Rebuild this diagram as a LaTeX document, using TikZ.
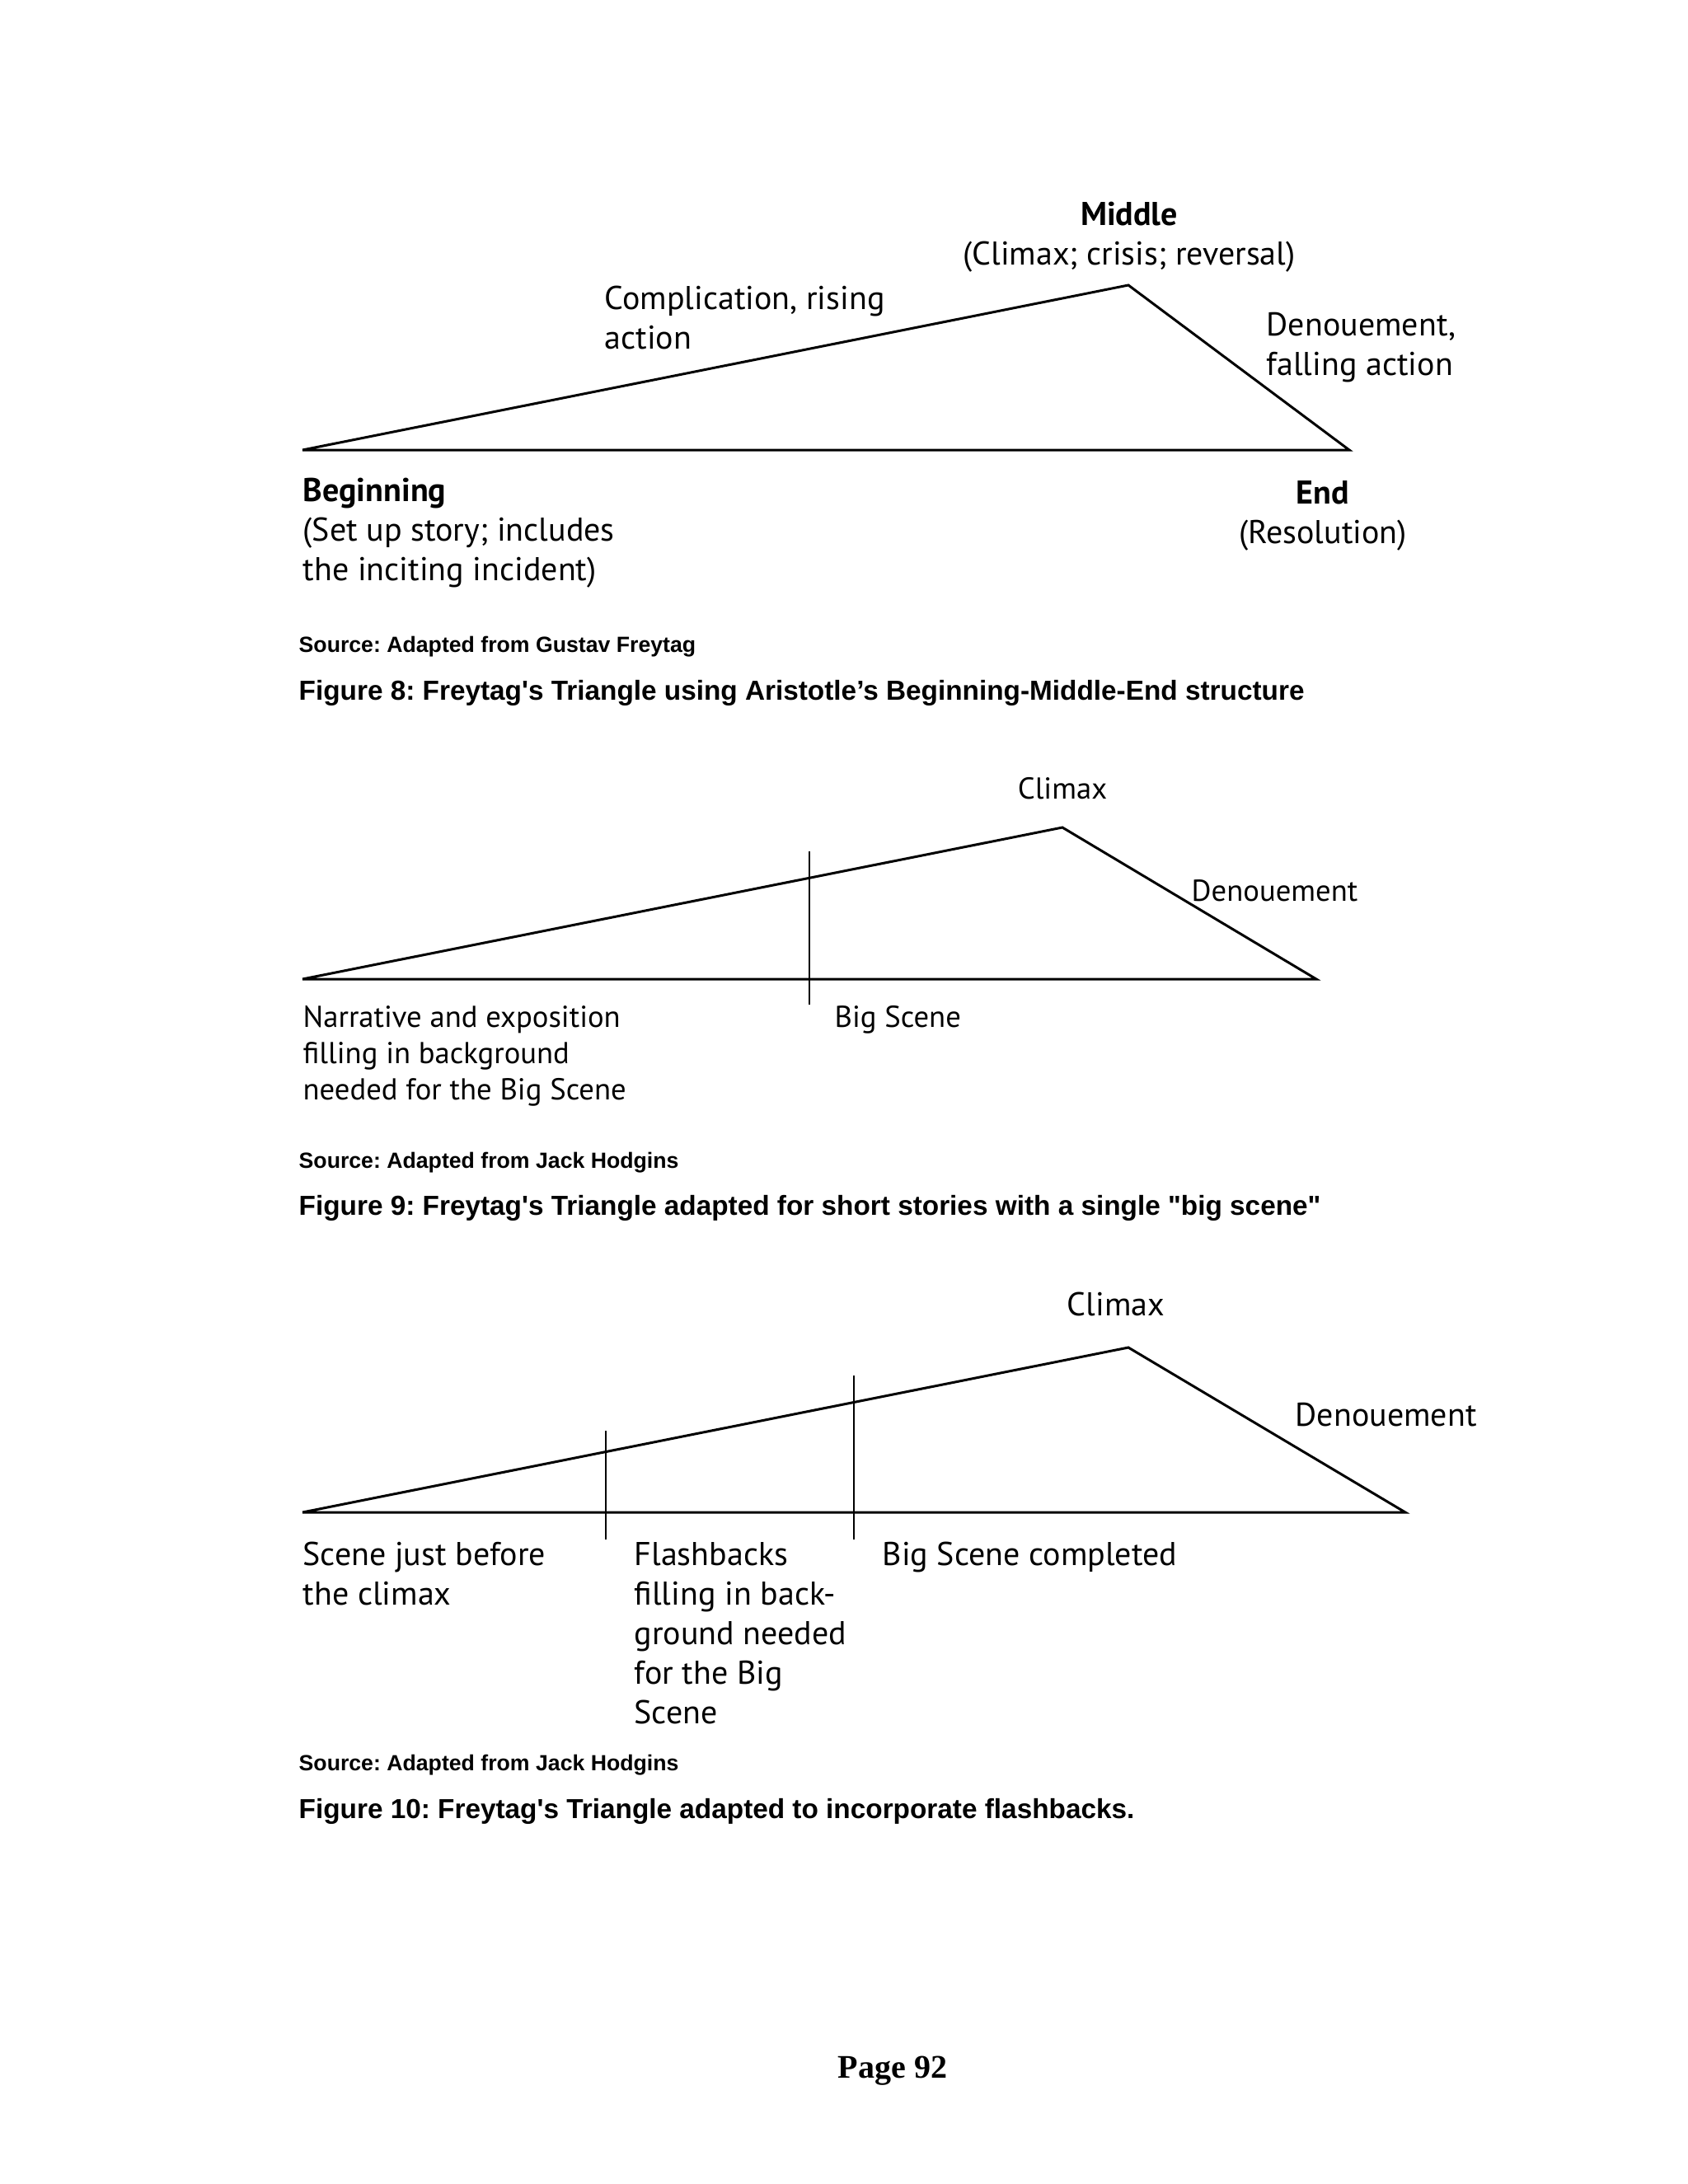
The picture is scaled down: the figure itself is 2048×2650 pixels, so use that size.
\documentclass[tikz,border=0pt]{standalone}
\usepackage{fontspec}
\setmainfont{PT Sans}
\newfontfamily\capfont{Liberation Sans}
\newfontfamily\pagefont{Liberation Serif}
\frenchspacing
\tikzset{
	tri/.style={line width=0.9pt, line join=miter},
	cutline/.style={line width=0.55pt},
	lbl/.style={inner sep=0pt, anchor=base west, align=left, font=\fontsize{12}{14.4}\selectfont},
	lblsmall/.style={lbl, font=\fontsize{11}{13.2}\selectfont},
	srcnote/.style={inner sep=0pt, anchor=base west, font=\capfont\bfseries\fontsize{8}{10}\selectfont},
	figcap/.style={inner sep=0pt, anchor=base west, font=\capfont\bfseries\fontsize{10}{12}\selectfont}
}
\begin{document}
\begin{tikzpicture}[x=0.010541cm, y=-0.010541cm]
	\useasboundingbox (0,0) rectangle (2048,2650);

	% Figure 8 (base anchors of multi-line labels sit on the last line)
	\coordinate (beg) at (367,546);
	\coordinate (mid) at (1369,346);
	\coordinate (fin) at (1637,546);
	\draw[tri] (beg) -- (mid) -- (fin) -- cycle;
	\node[lbl, anchor=base, align=center] (middle) at (1370,321) {\textbf{Middle}\\(Climax; crisis; reversal)};
	\node[lbl] (rising) at (733,423) {Complication, rising\\action};
	\node[lbl] (falling) at (1536,455) {Denouement,\\falling action};
	\node[lbl] (beginning) at (367,704) {\textbf{Beginning}\\(Set up story; includes\\the inciting incident)};
	\node[lbl, anchor=base, align=center] (end) at (1605,659) {\textbf{End}\\(Resolution)};
	\node[srcnote] (src8) at (362,791) {Source: Adapted from Gustav Freytag};
	\node[figcap] (cap8) at (362,849) {Figure 8: Freytag's Triangle using Aristotle’s Beginning-Middle-End structure};

	% Figure 9
	\coordinate (beg2) at (367,1188);
	\coordinate (top2) at (1289,1004);
	\coordinate (fin2) at (1597,1188);
	\draw[tri] (beg2) -- (top2) -- (fin2) -- cycle;
	\coordinate (big2a) at (982,1033);
	\coordinate (big2b) at (982,1219);
	\draw[cutline] (big2a) -- (big2b);
	\node[lblsmall, anchor=base] (climax2) at (1289,969) {Climax};
	\node[lblsmall] (denoue2) at (1445,1093) {Denouement};
	\node[lblsmall] (narr2) at (367,1334) {Narrative and exposition\\filling in background\\needed for the Big Scene};
	\node[lblsmall] (big2) at (1012,1246) {Big Scene};
	\node[srcnote] (src9) at (362,1417) {Source: Adapted from Jack Hodgins};
	\node[figcap] (cap9) at (362,1474) {Figure 9: Freytag's Triangle adapted for short stories with a single "big scene"};

	% Figure 10
	\coordinate (beg3) at (367,1835);
	\coordinate (top3) at (1369,1635);
	\coordinate (fin3) at (1705,1835);
	\draw[tri] (beg3) -- (top3) -- (fin3) -- cycle;
	\foreach \x/\y in {735/1736, 1036/1669}
	{
		\draw[cutline] (\x,\y) -- (\x,1868);
	}
	\node[lbl, anchor=base] (climax3) at (1354,1596) {Climax};
	\node[lbl] (denoue3) at (1571,1730) {Denouement};
	\node[lbl] (scene3) at (367,1947) {Scene just before\\the climax};
	\node[lbl] (flash3) at (769,2091) {Flashbacks\\filling in back-\\ground needed\\for the Big\\Scene};
	\node[lbl] (big3) at (1070,1899) {Big Scene completed};
	\node[srcnote] (src10) at (362,2148) {Source: Adapted from Jack Hodgins};
	\node[figcap] (cap10) at (362,2206) {Figure 10: Freytag's Triangle adapted to incorporate flashbacks.};

	\node[inner sep=0pt, anchor=base, font=\pagefont\bfseries\fontsize{12}{14}\selectfont] (page) at (1083,2521) {Page 92};
\end{tikzpicture}
\end{document}
